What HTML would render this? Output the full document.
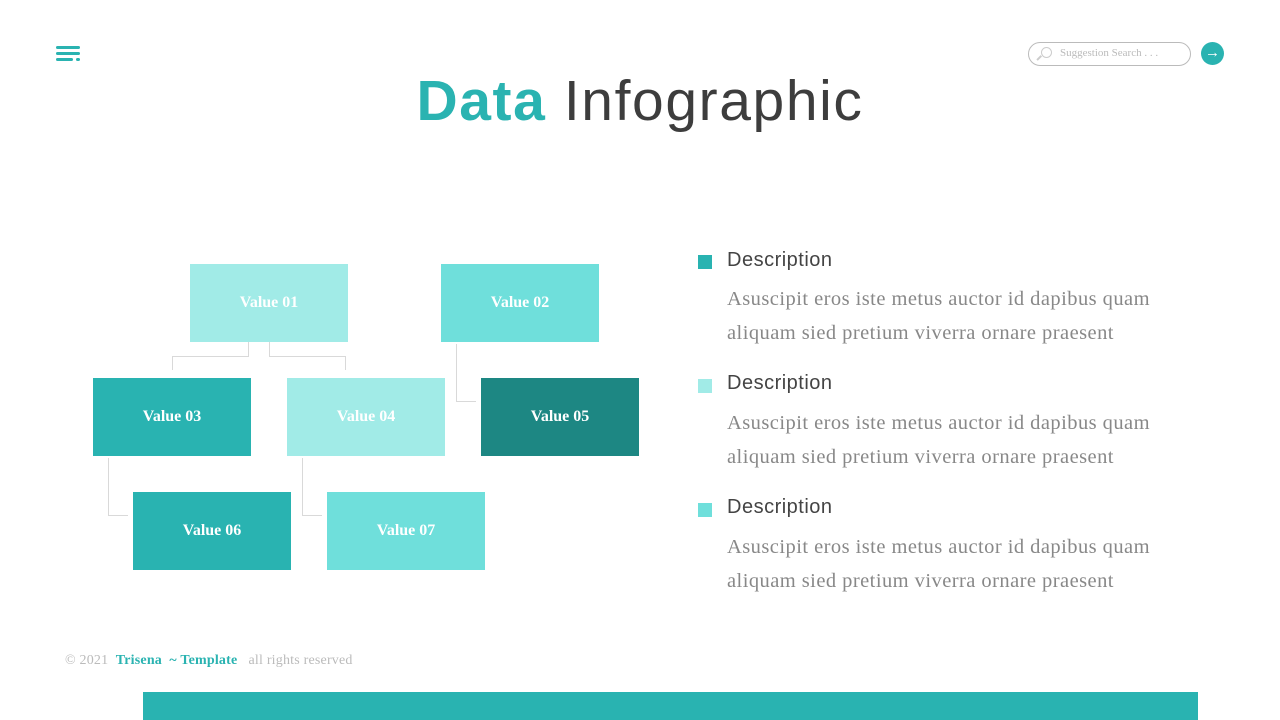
<!DOCTYPE html>
<html><head><meta charset="utf-8"><style>
*{margin:0;padding:0;box-sizing:border-box}
body{width:1280px;height:720px;background:#fff;position:relative;overflow:hidden;font-family:"Liberation Sans",sans-serif}
.a{position:absolute}
.box{position:absolute;width:158px;height:78px;display:flex;align-items:center;justify-content:center;color:#fff;font-family:"Liberation Serif",serif;font-weight:bold;font-size:16px}
.l{position:absolute;background:#d9d9d9}
.h{font-size:20px;color:#444;letter-spacing:0.5px}
.p{font-family:"Liberation Serif",serif;font-size:20.5px;color:#888;line-height:34px;letter-spacing:0.45px;white-space:nowrap}
.sq{position:absolute;width:14px;height:14px}
</style></head><body>
<div class="a" style="left:56px;top:46px;width:24px;height:3px;background:#2ab3b1;border-radius:2px"></div>
<div class="a" style="left:56px;top:52px;width:24px;height:3px;background:#2ab3b1;border-radius:2px"></div>
<div class="a" style="left:56px;top:58px;width:17px;height:3px;background:#2ab3b1;border-radius:2px"></div>
<div class="a" style="left:76px;top:58px;width:4px;height:3px;background:#2ab3b1;border-radius:2px"></div>

<div class="a" style="left:1028px;top:42px;width:163px;height:24px;border:1px solid #bbb;border-radius:12px"></div>
<div class="a" style="left:1041px;top:47px;width:11px;height:11px;border:1.5px solid #ccc;border-radius:50%"></div>
<div class="a" style="left:1036px;top:57px;width:6px;height:1.5px;background:#ccc;transform:rotate(-45deg)"></div>
<div class="a" style="left:1060px;top:47px;font-family:'Liberation Serif',serif;font-size:11px;color:#bbb">Suggestion Search . . .</div>
<div class="a" style="left:1201px;top:42px;width:23px;height:23px;border-radius:50%;background:#2ab3b1;color:#fff;font-size:15px;line-height:22px;text-align:center">→</div>

<div class="a" style="left:0;width:1280px;top:68px;text-align:center;font-size:57px;color:#3d3d3d;letter-spacing:1.6px"><span style="color:#2ab3b1;font-weight:bold">Data</span> Infographic</div>

<div class="l" style="left:248px;top:342px;width:1px;height:14px"></div>
<div class="l" style="left:172px;top:356px;width:77px;height:1px"></div>
<div class="l" style="left:172px;top:356px;width:1px;height:14px"></div>
<div class="l" style="left:269px;top:342px;width:1px;height:14px"></div>
<div class="l" style="left:269px;top:356px;width:77px;height:1px"></div>
<div class="l" style="left:345px;top:356px;width:1px;height:14px"></div>
<div class="l" style="left:456px;top:344px;width:1px;height:57px"></div>
<div class="l" style="left:456px;top:401px;width:20px;height:1px"></div>
<div class="l" style="left:108px;top:458px;width:1px;height:57px"></div>
<div class="l" style="left:108px;top:515px;width:20px;height:1px"></div>
<div class="l" style="left:302px;top:458px;width:1px;height:57px"></div>
<div class="l" style="left:302px;top:515px;width:20px;height:1px"></div>

<div class="box" style="left:190px;top:264px;background:#a1ebe7">Value 01</div>
<div class="box" style="left:441px;top:264px;background:#6fdfdb">Value 02</div>
<div class="box" style="left:93px;top:378px;background:#29b3b1">Value 03</div>
<div class="box" style="left:287px;top:378px;background:#a1ebe7">Value 04</div>
<div class="box" style="left:481px;top:378px;background:#1d8783">Value 05</div>
<div class="box" style="left:133px;top:492px;background:#29b3b1">Value 06</div>
<div class="box" style="left:327px;top:492px;background:#6fdfdb">Value 07</div>

<div class="sq" style="left:698px;top:255px;background:#29b3b1"></div>
<div class="a h" style="left:727px;top:249px">Description</div>
<div class="a p" style="left:727px;top:282px">Asuscipit eros iste metus auctor id dapibus quam<br>aliquam sied pretium viverra ornare praesent</div>
<div class="sq" style="left:698px;top:379px;background:#a1ebe7"></div>
<div class="a h" style="left:727px;top:372px">Description</div>
<div class="a p" style="left:727px;top:406px">Asuscipit eros iste metus auctor id dapibus quam<br>aliquam sied pretium viverra ornare praesent</div>
<div class="sq" style="left:698px;top:503px;background:#6fdfdb"></div>
<div class="a h" style="left:727px;top:496px">Description</div>
<div class="a p" style="left:727px;top:530px">Asuscipit eros iste metus auctor id dapibus quam<br>aliquam sied pretium viverra ornare praesent</div>

<div class="a" style="left:65px;top:653px;font-family:'Liberation Serif',serif;font-size:14px;color:#bbb;white-space:pre;letter-spacing:0.2px">© 2021  <b style="color:#2ab3b1">Trisena  ~ Template</b>   all rights reserved</div>
<div class="a" style="left:143px;top:692px;width:1055px;height:28px;background:#29b3b1"></div>
</body></html>
